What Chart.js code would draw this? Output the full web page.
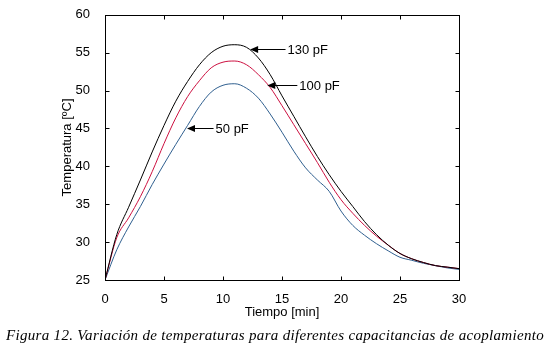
<!DOCTYPE html>
<html>
<head>
<meta charset="utf-8">
<script src="https://cdn.jsdelivr.net/npm/chart.js@4/dist/chart.umd.min.js"></script>
<style>
  body { margin: 0; background: #fff; }
  #wrap { position: relative; width: 548px; height: 346px; overflow: hidden; }
  #caption {
    position: absolute; left: 6px; top: 327px;
    font: italic 15px "Liberation Serif", serif;
    color: #000; white-space: nowrap;
  }
</style>
</head>
<body>
<div id="wrap">
  <canvas id="chart" width="548" height="346"></canvas>
  <div id="caption">Figura 12. Variación de temperaturas para diferentes capacitancias de acoplamiento</div>
</div>
<script>
// time axis (minutes) and measured temperatures for each coupling capacitance
const timeMin = [0, 1, 2, 3, 4, 5, 6, 7, 8, 9, 10, 11, 12, 13, 14, 15, 16, 17, 18, 19, 20, 21, 22, 23, 24, 25, 26, 27, 28, 29, 30];
const temp130 = [25, 31.0, 34.6, 38.2, 41.9, 45.4, 48.6, 51.2, 53.4, 55.0, 55.85, 56.05, 55.7, 54.3, 52.1, 49.3, 46.6, 43.9, 41.3, 38.9, 36.7, 34.7, 32.7, 31.0, 29.6, 28.5, 27.8, 27.3, 26.9, 26.7, 26.5];
const temp100 = [25, 30.6, 33.2, 36.0, 39.3, 43.0, 46.4, 49.2, 51.3, 53.0, 53.75, 53.9, 53.4, 52.1, 50.4, 48.0, 45.5, 43.0, 40.5, 37.9, 35.6, 33.8, 32.2, 30.8, 29.6, 28.5, 27.8, 27.3, 26.9, 26.7, 26.5];
const temp50 = [25, 29.0, 32.0, 34.7, 37.6, 40.3, 42.9, 45.4, 47.9, 49.8, 50.7, 50.9, 50.3, 49.0, 46.9, 44.5, 42.0, 39.8, 38.2, 36.7, 34.1, 32.2, 30.9, 29.8, 28.85, 28.0, 27.6, 27.2, 26.9, 26.6, 26.4];

const xTicks = [0, 5, 10, 15, 20, 25, 30];
const yTicks = [25, 30, 35, 40, 45, 50, 55, 60];

// arrow labels: text, arrow tip (x, y), tail x
const noteText = ['130 pF', '100 pF', '50 pF'];
const noteTipX = [12.3, 13.75, 6.95];
const noteTipY = [55.55, 50.8, 45.0];
const noteTailX = [15.3, 16.3, 9.2];

const toPoints = arr => arr.map((v, i) => ({ x: timeMin[i], y: v }));

// box around the plot with inward ticks on all sides, plus the arrows
const frameTicks = {
    id: 'frameTicks',
    afterDatasetsDraw(chart) {
        const { ctx, chartArea: a, scales: { x, y } } = chart;
        const L = Math.round(a.left) + 0.5, R = Math.round(a.right) + 0.5;
        const T = Math.round(a.top) + 0.5, B = Math.round(a.bottom) + 0.5;
        const tl = 4;
        ctx.save();
        ctx.strokeStyle = '#000';
        ctx.lineWidth = 1;
        ctx.strokeRect(L, T, R - L, B - T);
        ctx.beginPath();
        xTicks.forEach(v => {
            const px = Math.round(x.getPixelForValue(v)) + 0.5;
            ctx.moveTo(px, B); ctx.lineTo(px, B - tl);
            ctx.moveTo(px, T); ctx.lineTo(px, T + tl);
        });
        yTicks.forEach(v => {
            const py = Math.round(y.getPixelForValue(v)) + 0.5;
            ctx.moveTo(L, py); ctx.lineTo(L + tl, py);
            ctx.moveTo(R, py); ctx.lineTo(R - tl, py);
        });
        ctx.stroke();

        ctx.fillStyle = '#000';
        ctx.font = '13px "Liberation Sans", Arial, sans-serif';
        ctx.textBaseline = 'middle';
        noteText.forEach((txt, i) => {
            const tx = x.getPixelForValue(noteTipX[i]);
            const ty = Math.round(y.getPixelForValue(noteTipY[i])) + 0.5;
            const ex = x.getPixelForValue(noteTailX[i]);
            ctx.beginPath();
            ctx.moveTo(tx + 6, ty); ctx.lineTo(ex, ty);
            ctx.stroke();
            ctx.beginPath();
            ctx.moveTo(tx, ty);
            ctx.lineTo(tx + 8, ty - 3.5);
            ctx.lineTo(tx + 8, ty + 3.5);
            ctx.closePath();
            ctx.fill();
            ctx.fillText(txt, ex + 2, ty + 1);
        });
        ctx.restore();
    }
};

const tickFont = { family: '"Liberation Sans", Arial, sans-serif', size: 13 };

new Chart(document.getElementById('chart'), {
    type: 'line',
    data: {
        datasets: [
            { label: '130 pF', data: toPoints(temp130), borderColor: '#000000' },
            { label: '100 pF', data: toPoints(temp100), borderColor: '#cc1040' },
            { label: '50 pF', data: toPoints(temp50), borderColor: '#2f5f8f' }
        ]
    },
    options: {
        responsive: false,
        devicePixelRatio: 1,
        animation: false,
        layout: { padding: { left: 60, right: 89, top: 9, bottom: 26 } },
        elements: {
            point: { radius: 0 },
            line: { borderWidth: 1, cubicInterpolationMode: 'monotone', fill: false }
        },
        plugins: { legend: { display: false }, tooltip: { enabled: false } },
        scales: {
            x: {
                type: 'linear', min: 0, max: 30,
                afterBuildTicks: s => { s.ticks = xTicks.map(v => ({ value: v })); },
                afterFit: s => { s.height = 40; },
                grid: { display: false },
                border: { display: false },
                ticks: { color: '#000', font: tickFont, padding: 4, maxRotation: 0 },
                title: { display: true, text: 'Tiempo [min]', color: '#000', font: tickFont, padding: { top: 2, bottom: 0 } }
            },
            y: {
                type: 'linear', min: 25, max: 60,
                afterBuildTicks: s => { s.ticks = yTicks.map(v => ({ value: v })); },
                afterFit: s => { s.width = 45; },
                grid: { display: false },
                border: { display: false },
                ticks: { color: '#000', font: tickFont, padding: 7 },
                title: { display: true, text: 'Temperatura [ºC]', color: '#000', font: tickFont, padding: { top: 0, bottom: 0 } }
            }
        }
    },
    plugins: [frameTicks]
});

// stretch the caption to the width it has in the figure
const cap = document.getElementById('caption');
const spacing = (538 - cap.getBoundingClientRect().width) / cap.textContent.length;
cap.style.letterSpacing = spacing + 'px';
</script>
</body>
</html>
